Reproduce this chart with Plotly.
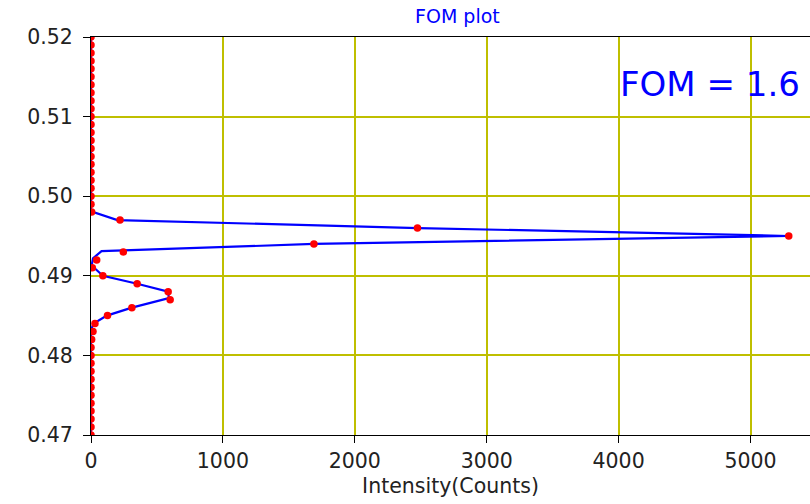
import plotly.graph_objects as go

# Measured intensity per slit position (red points)
positions = [round(0.470 + 0.001 * i, 3) for i in range(51)]
counts = [0, 0, 0, 0, 0, 0, 0, 0, 0, 0, 0, 0, 5,
          15, 30, 125, 310, 600, 585, 350, 90, 10, 43, 245,
          1690, 5290, 2475, 220, 5, 0, 0, 0, 0, 0, 0, 0, 0, 0,
          0, 0, 0, 0, 0, 0, 0, 0, 0, 0, 0, 0, 0]

# Profile trace (blue line)
profile_y = [0.520, 0.4981, 0.4970, 0.4960, 0.4950, 0.4940, 0.4931, 0.4922,
             0.4913, 0.4900, 0.4890, 0.4880, 0.4872, 0.4860, 0.4850, 0.4840,
             0.4834, 0.4830, 0.470]
profile_x = [0, 0, 200, 2480, 5290, 1690, 80, 15,
             5, 90, 350, 585, 590, 310, 120, 20,
             5, 0, 0]

fom_text = "FOM = 1.6"
title_text = "FOM plot"
x_title = "Intensity(Counts)"
x_ticks = [0, 1000, 2000, 3000, 4000, 5000]
y_ticks = [0.47, 0.48, 0.49, 0.50, 0.51, 0.52]

FONT = "DejaVu Sans"
GRID = "#bfbf00"
TEXT = "#222"

fig = go.Figure()
fig.add_trace(go.Scatter(x=profile_x, y=profile_y, mode="lines",
                         line=dict(color="blue", width=2.2), hoverinfo="skip"))
fig.add_trace(go.Scatter(x=counts, y=positions, mode="markers", cliponaxis=True,
                         marker=dict(color="red", size=7.5, line=dict(width=0))))

fig.update_layout(
    width=810, height=504,
    margin=dict(l=91, r=0, t=37, b=69),
    paper_bgcolor="white", plot_bgcolor="white",
    showlegend=False,
    font=dict(family=FONT, color="black"),
)
fig.update_xaxes(
    range=[0, 5451], tickvals=x_ticks, ticktext=[str(v) for v in x_ticks],
    showgrid=True, gridcolor=GRID, gridwidth=1.5, zeroline=False,
    showline=True, linecolor="black", linewidth=1, mirror=True,
    ticks="outside", ticklen=7, tickcolor="black",
    tickfont=dict(size=20.5, family=FONT, color=TEXT),
    title=dict(text=x_title, font=dict(size=20.5, family=FONT, color=TEXT), standoff=7),
)
fig.update_yaxes(
    range=[0.47, 0.52], tickvals=y_ticks, ticktext=[f"{v:.2f}" for v in y_ticks],
    showgrid=True, gridcolor=GRID, gridwidth=1.5, zeroline=False,
    showline=True, linecolor="black", linewidth=1, mirror=False,
    ticks="outside", ticklen=7, tickcolor="black", ticklabelstandoff=6,
    tickfont=dict(size=20.5, family=FONT, color=TEXT),
)
fig.add_annotation(text=title_text, xref="paper", yref="paper",
                   x=(457 - 91) / 719, y=(435 - 16) / 398,
                   xanchor="center", yanchor="middle", showarrow=False,
                   font=dict(size=19, family=FONT, color="blue"))
fig.add_annotation(text=fom_text, xref="paper", yref="paper",
                   x=(618 - 91) / 719, y=(435 - 84) / 398,
                   xanchor="left", yanchor="middle", showarrow=False,
                   font=dict(size=34, family=FONT, color="blue"))

fig.write_html("out.html")
